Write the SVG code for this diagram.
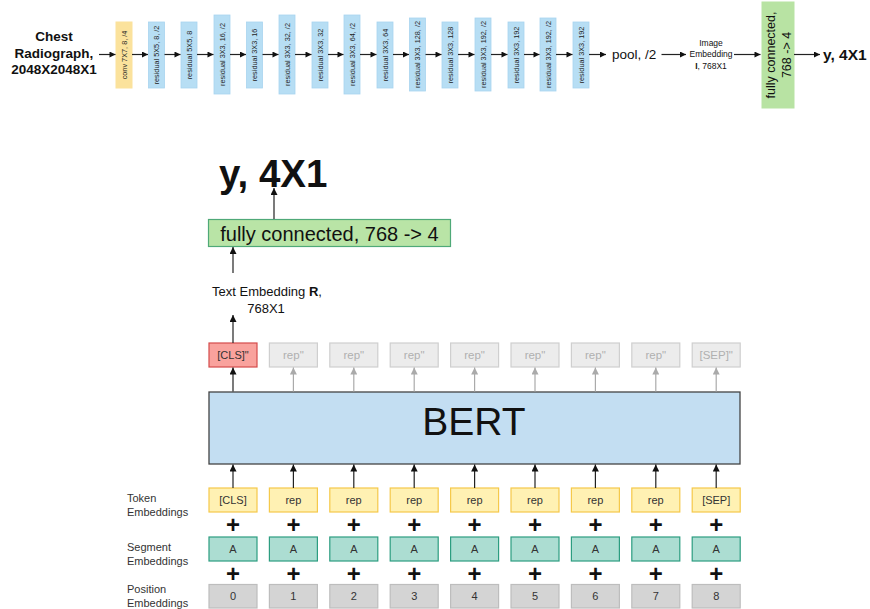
<svg xmlns="http://www.w3.org/2000/svg" width="870" height="609" viewBox="0 0 870 609">
<defs>
<marker id="ah" viewBox="0 0 10 10" refX="10" refY="5" markerWidth="8" markerHeight="7" markerUnits="userSpaceOnUse" orient="auto"><path d="M0,0 L10,5 L0,10 z" fill="#111"/></marker>
<marker id="ahs" viewBox="0 0 10 10" refX="10" refY="5" markerWidth="7" markerHeight="6" markerUnits="userSpaceOnUse" orient="auto"><path d="M0,0 L10,5 L0,10 z" fill="#111"/></marker>
<marker id="ahg" viewBox="0 0 10 10" refX="10" refY="5" markerWidth="8" markerHeight="7" markerUnits="userSpaceOnUse" orient="auto"><path d="M0,0 L10,5 L0,10 z" fill="#aaaaaa"/></marker>
</defs>
<style>
text{font-family:"Liberation Sans",Arial,sans-serif;fill:#111}
.conv{fill:#fbe29c;stroke:#fbe29c}
.res{fill:#b7def4;stroke:#a8d4ef;stroke-width:0.8}
.rt{font-size:7.3px;fill:#222;text-anchor:middle;dominant-baseline:central}
.c{stroke:#222;stroke-width:1.2;fill:none}
.g{stroke:#aaaaaa;stroke-width:1.2;fill:none}
.tok{fill:#fff1b3;stroke:#f5c94a;stroke-width:1.2}
.seg{fill:#acddd2;stroke:#2c9d80;stroke-width:1.2}
.pos{fill:#d4d4d4;stroke:#bdbdbd;stroke-width:1.2}
.gh{fill:#ececec;stroke:#cfcfcf;stroke-width:1.2}
.cls{fill:#f9a29d;stroke:#d44b4b;stroke-width:1.2}
.bt{font-size:11px;fill:#333;text-anchor:middle}
.ght{font-size:11.5px;fill:#b0b0b0;text-anchor:middle}
.lbl{font-size:11px;fill:#333}
.plus{font-size:24px;font-weight:bold;text-anchor:middle}
</style>

<!-- Top pipeline -->
<g id="input"><text font-size="13.5" font-weight="bold" text-anchor="middle"><tspan x="54" y="41">Chest</tspan><tspan x="54" y="57.5">Radiograph,</tspan><tspan x="54" y="74">2048X2048X1</tspan></text></g>
<g id="conv"><rect class="conv" x="116" y="22" width="16" height="66"/><text class="rt" transform="translate(124,55) rotate(-90)">conv 7X7, 8, /4</text></g>
<g id="res1"><rect class="res" x="148.5" y="22" width="16" height="66"/><text class="rt" transform="translate(156.5,55) rotate(-90)">residual 5X5, 8, /2</text></g>
<g id="res2"><rect class="res" x="181" y="22" width="16" height="66"/><text class="rt" transform="translate(189,55) rotate(-90)">residual 5X5, 8</text></g>
<g id="res3"><rect class="res" x="214" y="15" width="16" height="79"/><text class="rt" transform="translate(222,54.5) rotate(-90)">residual 3X3, 16, /2</text></g>
<g id="res4"><rect class="res" x="246.5" y="22" width="16" height="66"/><text class="rt" transform="translate(254.5,55) rotate(-90)">residual 3X3, 16</text></g>
<g id="res5"><rect class="res" x="279" y="15" width="16" height="79"/><text class="rt" transform="translate(287,54.5) rotate(-90)">residual 3X3, 32, /2</text></g>
<g id="res6"><rect class="res" x="312" y="22" width="16" height="66"/><text class="rt" transform="translate(320,55) rotate(-90)">residual 3X3, 32</text></g>
<g id="res7"><rect class="res" x="344" y="15" width="16" height="79"/><text class="rt" transform="translate(352,54.5) rotate(-90)">residual 3X3, 64, /2</text></g>
<g id="res8"><rect class="res" x="377" y="22" width="16" height="66"/><text class="rt" transform="translate(385,55) rotate(-90)">residual 3X3, 64</text></g>
<g id="res9"><rect class="res" x="409.5" y="18" width="16" height="73"/><text class="rt" transform="translate(417.5,54.5) rotate(-90)">residual 3X3, 128, /2</text></g>
<g id="res10"><rect class="res" x="442" y="22" width="16" height="66"/><text class="rt" transform="translate(450,55) rotate(-90)">residual 3X3, 128</text></g>
<g id="res11"><rect class="res" x="475" y="18" width="16" height="73"/><text class="rt" transform="translate(483,54.5) rotate(-90)">residual 3X3, 192, /2</text></g>
<g id="res12"><rect class="res" x="508" y="22" width="16" height="66"/><text class="rt" transform="translate(516,55) rotate(-90)">residual 3X3, 192</text></g>
<g id="res13"><rect class="res" x="540" y="18" width="16" height="73"/><text class="rt" transform="translate(548,54.5) rotate(-90)">residual 3X3, 192, /2</text></g>
<g id="res14"><rect class="res" x="573" y="22" width="16" height="66"/><text class="rt" transform="translate(581,55) rotate(-90)">residual 3X3, 192</text></g>
<g id="pool"><text x="612" y="59" font-size="13.5">pool, /2</text></g>
<g id="imgemb"><text font-size="8.5" text-anchor="middle" fill="#222"><tspan x="711" y="45.5">Image</tspan><tspan x="711" y="57">Embedding</tspan><tspan x="711" y="68.5"><tspan font-weight="bold">I</tspan>, 768X1</tspan></text></g>
<g id="fc-top"><rect x="762" y="2" width="32" height="106" fill="#b8e3a3" stroke="#b8e3a3"/><text font-size="12.5" text-anchor="middle" fill="#111" transform="translate(778,55) rotate(-90)"><tspan x="0" y="-3.5">fully connected,</tspan><tspan x="0" y="12.5">768 -&gt; 4</tspan></text></g>
<g id="out-top"><text x="823" y="59.5" font-size="15.5" font-weight="bold">y, 4X1</text></g>

<!-- Bottom -->
<g id="out-bottom"><text x="219" y="186.5" font-size="38.5" font-weight="bold">y, 4X1</text></g>
<g id="fc-bottom"><rect x="208.5" y="219.5" width="242" height="27" fill="#b9e4a6" stroke="#4fa978" stroke-width="1.2"/><text x="329.5" y="240.5" font-size="20" text-anchor="middle">fully connected, 768 -&gt; 4</text></g>
<g id="textemb"><text font-size="13" text-anchor="middle" fill="#222"><tspan x="267" y="296">Text Embedding <tspan font-weight="bold">R</tspan>,</tspan><tspan x="266" y="313">768X1</tspan></text></g>

<g id="out-reps">
<g id="o0"><rect class="cls" x="209" y="343" width="48" height="24"/><text class="bt" x="233" y="359" font-size="11.5" fill="#222">[CLS]"</text></g>
<g id="o1"><rect class="gh" x="269.4" y="343" width="48" height="24"/><text class="ght" x="293.4" y="359">rep"</text></g>
<g id="o2"><rect class="gh" x="329.8" y="343" width="48" height="24"/><text class="ght" x="353.8" y="359">rep"</text></g>
<g id="o3"><rect class="gh" x="390.2" y="343" width="48" height="24"/><text class="ght" x="414.2" y="359">rep"</text></g>
<g id="o4"><rect class="gh" x="450.6" y="343" width="48" height="24"/><text class="ght" x="474.6" y="359">rep"</text></g>
<g id="o5"><rect class="gh" x="511" y="343" width="48" height="24"/><text class="ght" x="535" y="359">rep"</text></g>
<g id="o6"><rect class="gh" x="571.4" y="343" width="48" height="24"/><text class="ght" x="595.4" y="359">rep"</text></g>
<g id="o7"><rect class="gh" x="631.8" y="343" width="48" height="24"/><text class="ght" x="655.8" y="359">rep"</text></g>
<g id="o8"><rect class="gh" x="692.2" y="343" width="48" height="24"/><text class="ght" x="716.2" y="359">[SEP]"</text></g>
</g>

<g id="bert"><rect x="209" y="392" width="531" height="72" fill="#c3def2" stroke="#444" stroke-width="1.3"/><text x="474" y="435" font-size="39" text-anchor="middle">BERT</text></g>

<g id="token-emb">
<g id="t0"><rect class="tok" x="209" y="488" width="48" height="24"/><text class="bt" x="233" y="504">[CLS]</text></g>
<g id="t1"><rect class="tok" x="269.4" y="488" width="48" height="24"/><text class="bt" x="293.4" y="504">rep</text></g>
<g id="t2"><rect class="tok" x="329.8" y="488" width="48" height="24"/><text class="bt" x="353.8" y="504">rep</text></g>
<g id="t3"><rect class="tok" x="390.2" y="488" width="48" height="24"/><text class="bt" x="414.2" y="504">rep</text></g>
<g id="t4"><rect class="tok" x="450.6" y="488" width="48" height="24"/><text class="bt" x="474.6" y="504">rep</text></g>
<g id="t5"><rect class="tok" x="511" y="488" width="48" height="24"/><text class="bt" x="535" y="504">rep</text></g>
<g id="t6"><rect class="tok" x="571.4" y="488" width="48" height="24"/><text class="bt" x="595.4" y="504">rep</text></g>
<g id="t7"><rect class="tok" x="631.8" y="488" width="48" height="24"/><text class="bt" x="655.8" y="504">rep</text></g>
<g id="t8"><rect class="tok" x="692.2" y="488" width="48" height="24"/><text class="bt" x="716.2" y="504">[SEP]</text></g>
</g>

<g id="seg-emb">
<g id="s0"><rect class="seg" x="209" y="537" width="48" height="24"/><text class="bt" x="233" y="553">A</text></g>
<g id="s1"><rect class="seg" x="269.4" y="537" width="48" height="24"/><text class="bt" x="293.4" y="553">A</text></g>
<g id="s2"><rect class="seg" x="329.8" y="537" width="48" height="24"/><text class="bt" x="353.8" y="553">A</text></g>
<g id="s3"><rect class="seg" x="390.2" y="537" width="48" height="24"/><text class="bt" x="414.2" y="553">A</text></g>
<g id="s4"><rect class="seg" x="450.6" y="537" width="48" height="24"/><text class="bt" x="474.6" y="553">A</text></g>
<g id="s5"><rect class="seg" x="511" y="537" width="48" height="24"/><text class="bt" x="535" y="553">A</text></g>
<g id="s6"><rect class="seg" x="571.4" y="537" width="48" height="24"/><text class="bt" x="595.4" y="553">A</text></g>
<g id="s7"><rect class="seg" x="631.8" y="537" width="48" height="24"/><text class="bt" x="655.8" y="553">A</text></g>
<g id="s8"><rect class="seg" x="692.2" y="537" width="48" height="24"/><text class="bt" x="716.2" y="553">A</text></g>
</g>

<g id="pos-emb">
<g id="p0"><rect class="pos" x="209" y="584.5" width="48" height="23.5"/><text class="bt" x="233" y="600">0</text></g>
<g id="p1"><rect class="pos" x="269.4" y="584.5" width="48" height="23.5"/><text class="bt" x="293.4" y="600">1</text></g>
<g id="p2"><rect class="pos" x="329.8" y="584.5" width="48" height="23.5"/><text class="bt" x="353.8" y="600">2</text></g>
<g id="p3"><rect class="pos" x="390.2" y="584.5" width="48" height="23.5"/><text class="bt" x="414.2" y="600">3</text></g>
<g id="p4"><rect class="pos" x="450.6" y="584.5" width="48" height="23.5"/><text class="bt" x="474.6" y="600">4</text></g>
<g id="p5"><rect class="pos" x="511" y="584.5" width="48" height="23.5"/><text class="bt" x="535" y="600">5</text></g>
<g id="p6"><rect class="pos" x="571.4" y="584.5" width="48" height="23.5"/><text class="bt" x="595.4" y="600">6</text></g>
<g id="p7"><rect class="pos" x="631.8" y="584.5" width="48" height="23.5"/><text class="bt" x="655.8" y="600">7</text></g>
<g id="p8"><rect class="pos" x="692.2" y="584.5" width="48" height="23.5"/><text class="bt" x="716.2" y="600">8</text></g>
</g>

<g id="plus">
<text class="plus" x="233" y="532.5">+</text><text class="plus" x="293.4" y="532.5">+</text><text class="plus" x="353.8" y="532.5">+</text><text class="plus" x="414.2" y="532.5">+</text><text class="plus" x="474.6" y="532.5">+</text><text class="plus" x="535" y="532.5">+</text><text class="plus" x="595.4" y="532.5">+</text><text class="plus" x="655.8" y="532.5">+</text><text class="plus" x="716.2" y="532.5">+</text>
<text class="plus" x="233" y="581.5">+</text><text class="plus" x="293.4" y="581.5">+</text><text class="plus" x="353.8" y="581.5">+</text><text class="plus" x="414.2" y="581.5">+</text><text class="plus" x="474.6" y="581.5">+</text><text class="plus" x="535" y="581.5">+</text><text class="plus" x="595.4" y="581.5">+</text><text class="plus" x="655.8" y="581.5">+</text><text class="plus" x="716.2" y="581.5">+</text>
</g>

<g id="row-labels">
<text class="lbl"><tspan x="127" y="502">Token</tspan><tspan x="127" y="515.5">Embeddings</tspan></text>
<text class="lbl"><tspan x="127" y="551">Segment</tspan><tspan x="127" y="564.5">Embeddings</tspan></text>
<text class="lbl"><tspan x="127" y="593">Position</tspan><tspan x="127" y="606.5">Embeddings</tspan></text>
</g>

<g id="connectors">
<path class="c" marker-end="url(#ahs)" d="M99 54.5H115.5"/>
<path class="c" marker-end="url(#ahs)" d="M132 54.5H148"/>
<path class="c" marker-end="url(#ahs)" d="M164.5 54.5H180.5"/>
<path class="c" marker-end="url(#ahs)" d="M197 54.5H213.5"/>
<path class="c" marker-end="url(#ahs)" d="M230 54.5H246"/>
<path class="c" marker-end="url(#ahs)" d="M262.5 54.5H278.5"/>
<path class="c" marker-end="url(#ahs)" d="M295 54.5H311.5"/>
<path class="c" marker-end="url(#ahs)" d="M328 54.5H343.5"/>
<path class="c" marker-end="url(#ahs)" d="M360 54.5H376.5"/>
<path class="c" marker-end="url(#ahs)" d="M393 54.5H409"/>
<path class="c" marker-end="url(#ahs)" d="M425.5 54.5H441.5"/>
<path class="c" marker-end="url(#ahs)" d="M458 54.5H474.5"/>
<path class="c" marker-end="url(#ahs)" d="M491 54.5H507.5"/>
<path class="c" marker-end="url(#ahs)" d="M524 54.5H539.5"/>
<path class="c" marker-end="url(#ahs)" d="M556 54.5H572.5"/>
<path class="c" marker-end="url(#ahs)" d="M589 54.5H606"/>
<path class="c" marker-end="url(#ahs)" d="M661.5 54.5H686"/>
<path class="c" marker-end="url(#ahs)" d="M734 54.5H760.5"/>
<path class="c" marker-end="url(#ahs)" d="M794 54.5H820"/>

<path class="c" marker-end="url(#ah)" d="M274 219V188"/>
<path class="c" marker-end="url(#ah)" d="M233 273V247"/>
<path class="c" marker-end="url(#ah)" d="M233 343V315"/>

<path class="c" marker-end="url(#ah)" d="M233 391.5V367.5"/>
<path class="g" marker-end="url(#ahg)" d="M293.4 391.5V367.5"/>
<path class="g" marker-end="url(#ahg)" d="M353.8 391.5V367.5"/>
<path class="g" marker-end="url(#ahg)" d="M414.2 391.5V367.5"/>
<path class="g" marker-end="url(#ahg)" d="M474.6 391.5V367.5"/>
<path class="g" marker-end="url(#ahg)" d="M535 391.5V367.5"/>
<path class="g" marker-end="url(#ahg)" d="M595.4 391.5V367.5"/>
<path class="g" marker-end="url(#ahg)" d="M655.8 391.5V367.5"/>
<path class="g" marker-end="url(#ahg)" d="M716.2 391.5V367.5"/>

<path class="c" marker-end="url(#ah)" d="M233 488V464.5"/>
<path class="c" marker-end="url(#ah)" d="M293.4 488V464.5"/>
<path class="c" marker-end="url(#ah)" d="M353.8 488V464.5"/>
<path class="c" marker-end="url(#ah)" d="M414.2 488V464.5"/>
<path class="c" marker-end="url(#ah)" d="M474.6 488V464.5"/>
<path class="c" marker-end="url(#ah)" d="M535 488V464.5"/>
<path class="c" marker-end="url(#ah)" d="M595.4 488V464.5"/>
<path class="c" marker-end="url(#ah)" d="M655.8 488V464.5"/>
<path class="c" marker-end="url(#ah)" d="M716.2 488V464.5"/>
</g>
</svg>
